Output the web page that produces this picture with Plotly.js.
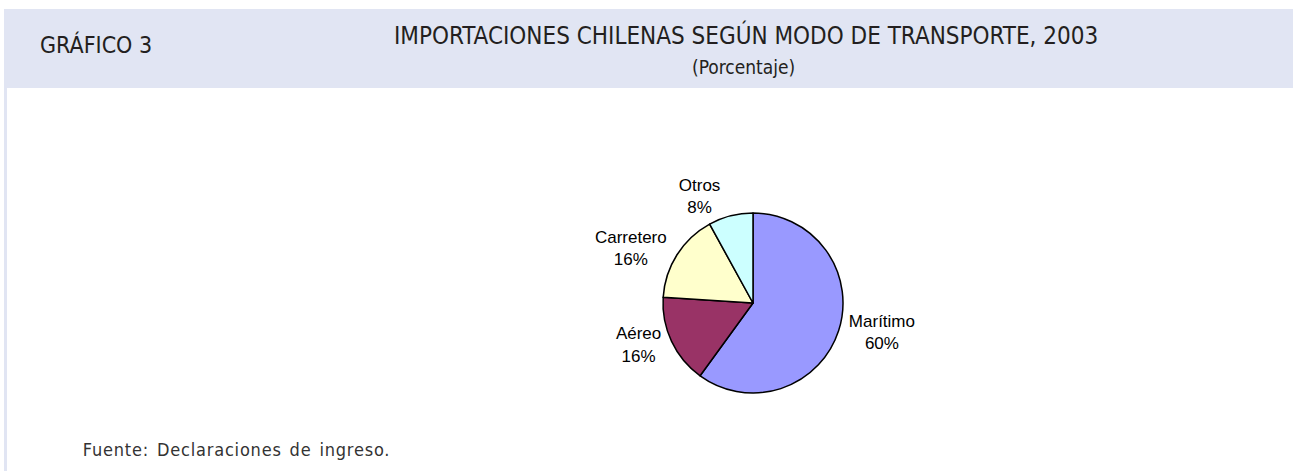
<!DOCTYPE html>
<html>
<head>
<meta charset="utf-8">
<script src="https://cdn.plot.ly/plotly-3.0.1.min.js"></script>
<style>
html,body{margin:0;padding:0;background:#fff;}
#chart{width:1293px;height:471px;}
</style>
</head>
<body>
<div id="chart"></div>
<script>
const categories = ["Marítimo", "Aéreo", "Carretero", "Otros"];
const shares = [60, 16, 16, 8];
const sliceColors = ["#9999FF", "#993366", "#FFFFCC", "#CCFFFF"];
const chartLabel = "GRÁFICO 3";
const chartTitle = "IMPORTACIONES CHILENAS SEGÚN MODO DE TRANSPORTE, 2003";
const chartSubtitle = "(Porcentaje)";
const sourceNote = "Fuente: Declaraciones de ingreso.";

const W = 1293, H = 471;
const cx = 753, cy = 303, r = 90;
const headerFont = "'Liberation Sans Narrow', 'DejaVu Sans Condensed', 'Open Sans', sans-serif";

const trace = {
  type: "pie",
  labels: categories,
  values: shares,
  sort: false,
  direction: "clockwise",
  rotation: 0,
  marker: {colors: sliceColors, line: {color: "#000000", width: 1.5}},
  texttemplate: "%{label}<br>%{percent:.0%}",
  textposition: "outside",
  outsidetextfont: {family: "'Liberation Sans', Arial, sans-serif", size: 17, color: "#000"},
  hoverinfo: "label+percent",
  showlegend: false,
  automargin: false,
  domain: {x: [(cx - r) / W, (cx + r) / W], y: [(H - cy - r) / H, (H - cy + r) / H]}
};

const layout = {
  width: W, height: H,
  margin: {l: 0, r: 0, t: 0, b: 0},
  paper_bgcolor: "#ffffff",
  plot_bgcolor: "#ffffff",
  showlegend: false,
  shapes: [
    {type: "rect", xref: "paper", yref: "paper", x0: 4 / W, x1: 1, y0: 1 - 88 / H, y1: 1 - 9 / H,
     fillcolor: "#E1E5F3", line: {width: 0}, layer: "below"},
    {type: "rect", xref: "paper", yref: "paper", x0: 4 / W, x1: 7 / W, y0: 0, y1: 1 - 88 / H,
     fillcolor: "#E1E5F3", line: {width: 0}, layer: "below"}
  ],
  annotations: [
    {text: chartLabel, xref: "paper", yref: "paper", x: 38 / W, y: 1 - 45 / H, xanchor: "left", yanchor: "middle",
     showarrow: false, font: {family: headerFont, size: 23, color: "#231F20"}},
    {text: chartTitle, xref: "paper", yref: "paper", x: 746 / W, y: 1 - 35 / H, xanchor: "center", yanchor: "middle",
     showarrow: false, font: {family: headerFont, size: 24, color: "#231F20"}},
    {text: chartSubtitle, xref: "paper", yref: "paper", x: 743 / W, y: 1 - 67 / H, xanchor: "center", yanchor: "middle",
     showarrow: false, font: {family: headerFont, size: 19, color: "#231F20"}},
    {text: sourceNote, xref: "paper", yref: "paper", x: 97 / W, y: 1 - 449 / H, xanchor: "left", yanchor: "middle",
     showarrow: false, font: {family: headerFont, size: 18, color: "#333333"}}
  ]
};

Plotly.newPlot("chart", [trace], layout, {displayModeBar: false, staticPlot: true}).then(function () {
  document.querySelectorAll(".annotation-text").forEach(function (t) {
    if (t.textContent.indexOf("Fuente") === 0) {
      t.style.letterSpacing = "0.8px";
      t.style.wordSpacing = "2px";
    }
  });
});
</script>
</body>
</html>
